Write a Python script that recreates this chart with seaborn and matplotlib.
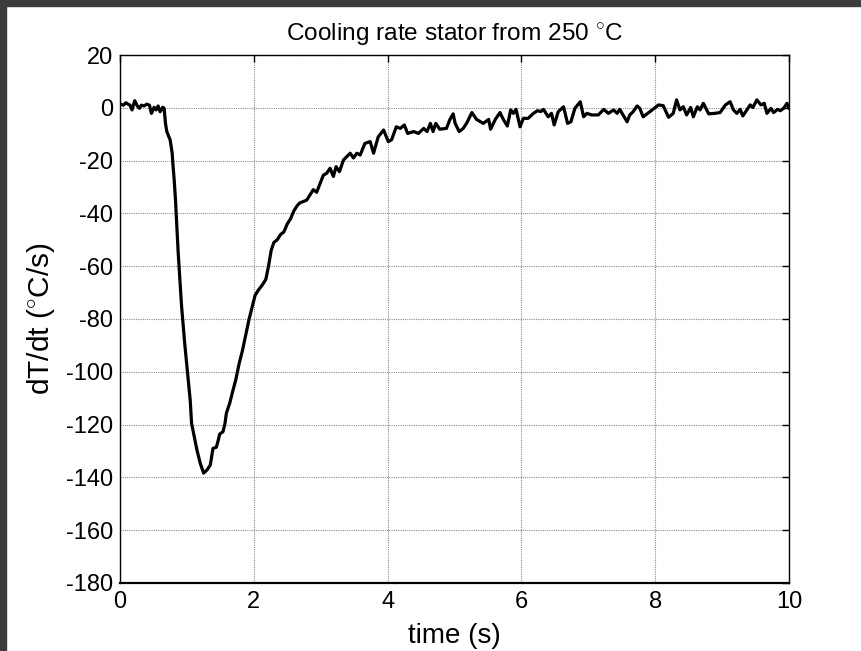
import matplotlib
matplotlib.use("Agg")
import matplotlib.pyplot as plt
from matplotlib.patches import Rectangle
import seaborn as sns
import pandas as pd

# Measured cooling rate of the stator (time in s, rate in degC/s)
time_s = [
    0.00, 0.05, 0.09, 0.12, 0.15, 0.18, 0.22, 0.26, 0.29, 0.32,
    0.36, 0.40, 0.44, 0.47, 0.51, 0.54, 0.57, 0.60, 0.64, 0.66,
    0.68, 0.70, 0.72, 0.75, 0.78, 0.79, 0.81, 0.83, 0.87, 0.92,
    0.97, 1.02, 1.05, 1.07, 1.11, 1.15, 1.20, 1.25, 1.30, 1.35,
    1.37, 1.39, 1.44, 1.47, 1.49, 1.54, 1.57, 1.59, 1.64, 1.69,
    1.73, 1.78, 1.83, 1.88, 1.93, 1.97, 2.02, 2.07, 2.13, 2.18,
    2.22, 2.26, 2.30, 2.35, 2.40, 2.45, 2.50, 2.55, 2.60, 2.65,
    2.69, 2.79, 2.89, 2.94, 3.04, 3.09, 3.14, 3.19, 3.23, 3.28,
    3.34, 3.44, 3.49, 3.54, 3.59, 3.66, 3.74, 3.79, 3.86, 3.94,
    4.01, 4.06, 4.13, 4.19, 4.25, 4.30, 4.39, 4.46, 4.54, 4.59,
    4.64, 4.68, 4.72, 4.78, 4.88, 4.93, 4.98, 5.01, 5.07, 5.13,
    5.18, 5.26, 5.33, 5.43, 5.51, 5.54, 5.61, 5.68, 5.73, 5.79,
    5.84, 5.88, 5.92, 5.98, 6.03, 6.10, 6.18, 6.24, 6.29, 6.33,
    6.40, 6.45, 6.49, 6.55, 6.63, 6.69, 6.74, 6.80, 6.88, 6.93,
    6.98, 7.05, 7.15, 7.23, 7.30, 7.38, 7.43, 7.47, 7.52, 7.58,
    7.62, 7.67, 7.73, 7.77, 7.82, 7.92, 8.05, 8.12, 8.20, 8.27,
    8.32, 8.37, 8.42, 8.47, 8.53, 8.57, 8.63, 8.67, 8.72, 8.80,
    8.89, 8.97, 9.05, 9.12, 9.17, 9.22, 9.27, 9.31, 9.37, 9.42,
    9.46, 9.52, 9.58, 9.63, 9.67, 9.73, 9.77, 9.83, 9.87, 9.92,
    9.97, 10.00,
]
cooling_rate = [
    1.4, 1.0, 1.9, 1.4, 1.0, -0.8, 2.7, 0.7, -0.2, 1.0,
    0.7, 1.4, 1.0, -2.1, 0.2, -0.8, 0.7, -1.5, 0.2, -0.2,
    -5.9, -9.0, -10.3, -12.2, -17.2, -21.0, -27.3, -35.0, -55.0, -75.0,
    -90.0, -103.3, -110.9, -119.5, -124.6, -129.6, -134.7, -138.4, -137.2, -135.3,
    -132.2, -129.0, -128.6, -125.8, -123.6, -122.7, -119.5, -115.7, -111.9, -106.9,
    -103.1, -97.0, -92.0, -86.0, -80.0, -76.0, -71.0, -69.0, -67.0, -65.0,
    -60.0, -54.0, -51.0, -50.0, -48.0, -47.0, -44.0, -42.0, -39.0, -37.0,
    -36.0, -35.0, -31.0, -32.0, -25.5, -24.8, -22.9, -26.0, -22.3, -24.2,
    -19.8, -17.2, -19.0, -17.2, -17.9, -13.5, -12.8, -17.2, -11.0, -8.4,
    -12.8, -12.1, -7.2, -7.8, -6.5, -9.7, -9.0, -9.7, -7.8, -9.0,
    -5.9, -9.0, -5.9, -8.1, -7.8, -4.5, -2.3, -5.9, -9.0, -7.8,
    -5.9, -1.8, -4.4, -5.9, -4.4, -8.1, -4.4, -1.8, -4.4, -6.9,
    -0.8, -2.1, -0.6, -7.2, -4.0, -4.0, -2.1, -1.1, -1.4, -0.6,
    -3.4, -2.1, -6.5, -1.5, 0.4, -5.9, -5.3, -0.2, 2.3, -3.4,
    -2.1, -2.7, -2.7, -0.6, -2.1, -0.8, -2.1, -0.6, -2.7, -5.3,
    -2.7, -1.5, 0.7, -0.2, -3.4, -1.5, 1.1, 0.8, -3.6, -2.1,
    3.0, -0.8, 0.4, -2.7, 0.1, -3.4, 0.4, -0.8, 1.7, -2.3,
    -2.1, -1.8, 1.1, 2.3, -0.8, -2.1, -0.6, -3.1, -0.8, 1.1,
    0.1, 3.0, 1.1, 1.7, -2.1, -0.2, -1.8, -0.6, -1.1, -0.2,
    1.7, -0.2,
]

x_ticks = [0, 2, 4, 6, 8, 10]
y_ticks = [20, 0, -20, -40, -60, -80, -100, -120, -140, -160, -180]

sns.set_theme(style="white")
plt.rcParams["font.family"] = ["Liberation Sans", "DejaVu Sans"]
plt.rcParams["mathtext.fontset"] = "custom"
plt.rcParams["mathtext.rm"] = "Liberation Sans"
plt.rcParams["mathtext.it"] = "Liberation Sans"

df = pd.DataFrame({"time": time_s, "rate": cooling_rate})

fig = plt.figure(figsize=(8.62, 6.51), dpi=100, facecolor="white")
ax = fig.add_axes([0.1392, 0.1045, 0.7761, 0.811])
ax.set_facecolor("white")

sns.lineplot(data=df, x="time", y="rate", ax=ax, color="black",
             linewidth=2.3, sort=False, estimator=None)

ax.set_xlim(0, 10)
ax.set_ylim(-180, 20)
ax.set_xticks(x_ticks)
ax.set_yticks(y_ticks)
ax.set_xticklabels([str(v) for v in x_ticks])
ax.set_yticklabels([str(v) for v in y_ticks])

ax.grid(True, linestyle=(0, (1, 1)), color="#8c8c8c", linewidth=0.8)
for side in ["left", "right", "top", "bottom"]:
    ax.spines[side].set_visible(True)
    ax.spines[side].set_color("black")
    ax.spines[side].set_linewidth(1.0)
ax.spines["bottom"].set_linewidth(1.6)

ax.tick_params(axis="both", which="both", direction="in", length=5, width=1,
               color="black", top=True, right=True, labelsize=17,
               labelcolor="black")
ax.tick_params(axis="x", pad=6)
ax.tick_params(axis="y", pad=5)

ax.set_title(r"Cooling rate stator from 250 $^{\circ}$C", fontsize=17.6,
             color="black", pad=11)
ax.set_xlabel("time (s)", fontsize=20, color="black", labelpad=7)
ax.set_ylabel(r"dT/dt ($^{\circ}$C/s)", fontsize=21.5, color="black", labelpad=6)

# dark window edge along the top and left of the figure
fig.add_artist(Rectangle((0, 1 - 6 / 651), 1, 6 / 651, transform=fig.transFigure,
                         color="#3c3c3c", zorder=10))
fig.add_artist(Rectangle((0, 0), 6 / 862, 1, transform=fig.transFigure,
                         color="#3c3c3c", zorder=10))

fig.savefig("out.png", dpi=100, facecolor="white")
